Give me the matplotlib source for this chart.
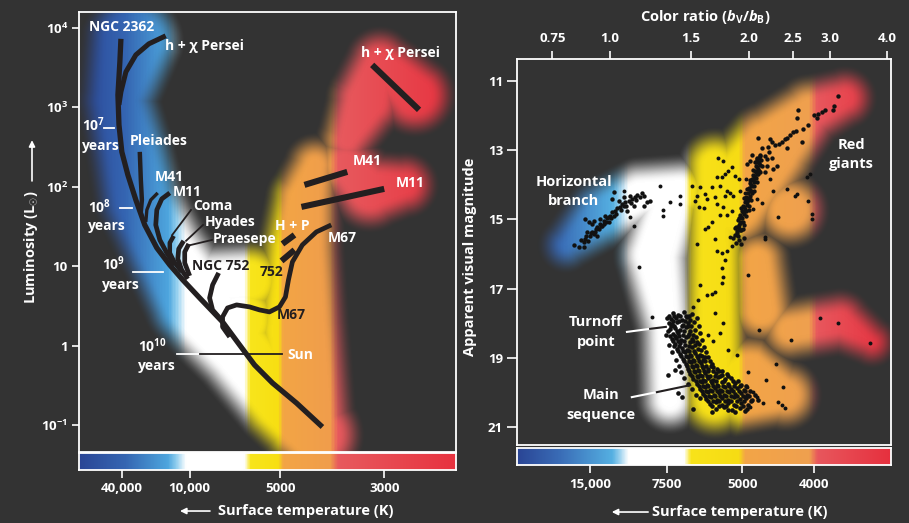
import numpy as np
import matplotlib
matplotlib.use("Agg")
import matplotlib.pyplot as plt
from matplotlib.colors import LinearSegmentedColormap
from matplotlib.ticker import NullLocator

plt.rcParams['font.family'] = ['Open Sans', 'DejaVu Sans']
plt.rcParams['font.weight'] = 'bold'
plt.rcParams['mathtext.fontset'] = 'custom'
plt.rcParams['mathtext.rm'] = 'Open Sans:bold'
plt.rcParams['mathtext.it'] = 'Open Sans:bold:italic'
plt.rcParams['mathtext.bf'] = 'Open Sans:bold'

BG = '#333333'
INK = '#231f20'

# ---------------------------------------------------------------- left panel
# cluster isochrones: x = colour index, y = log10(L / Lsun)
ngc2362_x = [-0.222, -0.229, -0.242, -0.235, -0.216, -0.176, -0.123, -0.064, 0.016,
             0.102, 0.188, 0.300, 0.452, 0.565, 0.664, 0.783, 0.942, 1.114]
ngc2362_logL = [3.862, 3.572, 3.157, 2.779, 2.439, 2.149, 1.834, 1.519, 1.230,
                1.015, 0.827, 0.600, 0.298, 0.008, -0.244, -0.471, -0.723, -1.025]
hchi_x = [0.075, -0.037, -0.123, -0.189, -0.222, -0.235]
hchi_logL = [3.900, 3.799, 3.660, 3.446, 3.194, 3.031]
pleiades_x = [-0.097, -0.090, -0.083, -0.090]
pleiades_logL = [2.439, 2.086, 1.834, 1.683]
m41_x = [0.022, -0.024, -0.050, -0.057]
m41_logL = [1.922, 1.834, 1.708, 1.557]
m11_x = [0.102, 0.049, 0.016, 0.009, 0.036, 0.082, 0.135]
m11_logL = [1.922, 1.847, 1.708, 1.519, 1.330, 1.167, 1.015]
coma_x = [0.128, 0.102, 0.102, 0.135, 0.181]
coma_logL = [1.381, 1.293, 1.167, 1.041, 0.927]
hyades_x = [0.194, 0.161, 0.155, 0.181, 0.221]
hyades_logL = [1.318, 1.217, 1.091, 0.952, 0.839]
praesepe_x = [0.228, 0.201, 0.201, 0.234]
praesepe_logL = [1.280, 1.179, 1.041, 0.877]
ngc752_x = [0.426, 0.386, 0.366, 0.386, 0.433]
ngc752_logL = [0.915, 0.764, 0.600, 0.449, 0.348]
m67_x = [1.173, 1.074, 0.981, 0.915, 0.889, 0.869, 0.829, 0.763, 0.697, 0.631,
         0.545, 0.485, 0.452, 0.452, 0.499]
m67_logL = [1.519, 1.431, 1.267, 1.053, 0.827, 0.612, 0.487, 0.424, 0.449, 0.487,
            0.512, 0.474, 0.361, 0.235, 0.109]
# giant-branch segments
hp_giants_x, hp_giants_logL = [0.849, 0.929], [1.280, 1.393]
n752_giants_x, n752_giants_logL = [0.843, 0.929], [1.066, 1.204]
m41_giants_x, m41_giants_logL = [0.995, 1.279], [2.023, 2.187]
m11_giants_x, m11_giants_logL = [0.975, 1.524], [1.746, 1.973]
hchi_giants_x, hchi_giants_logL = [1.444, 1.755], [3.534, 2.968]

lum_ticks = [0.1, 1, 10, 100, 1000, 10000]
lum_labels = ['$10^{-1}$', '1', '10', '$10^2$', '$10^3$', '$10^4$']
temp_left_pos = [-0.216, 0.234, 0.836, 1.524]
temp_left_labels = ['40,000', '10,000', '5000', '3000']

# ---------------------------------------------------------------- right panel
# globular cluster photometry: (colour ratio bV/bB, apparent visual magnitude)
hb_stars = [
    (0.835, 15.74), (0.856, 15.80), (0.878, 15.65), (0.882, 15.57), (0.896, 15.62),
    (0.905, 15.48), (0.914, 15.36), (0.928, 15.36), (0.937, 15.22), (0.951, 15.13),
    (0.961, 15.19), (0.970, 15.05), (0.985, 14.96), (1.000, 14.90), (1.010, 14.79),
    (1.025, 14.76), (1.036, 14.67), (1.051, 14.64), (1.062, 14.55), (1.078, 14.50),
    (1.100, 14.47), (1.116, 14.41), (1.133, 14.35), (1.145, 14.29), (1.174, 14.24),
    (1.185, 14.32), (1.203, 14.50), (1.221, 14.47), (1.185, 14.61), (1.127, 14.61),
    (1.089, 14.76), (1.073, 14.61), (1.020, 14.90), (0.995, 15.08), (0.970, 15.13),
    (0.946, 15.28), (0.923, 15.42), (0.891, 15.36), (0.882, 14.99), (0.900, 15.08),
    (0.914, 15.13), (0.937, 15.48), (0.878, 15.80), (1.073, 14.35), (1.105, 14.32),
    (1.020, 14.21), (1.010, 14.41), (1.046, 14.47), (0.995, 14.93), (0.975, 14.90),
    (0.951, 14.99), (0.923, 15.05), (0.865, 15.60), (0.887, 15.48), (0.909, 15.39),
    (0.932, 15.28), (0.956, 15.19), (0.980, 15.08), (1.005, 14.96), (1.030, 14.84),
    (1.056, 14.73), (1.083, 14.61), (1.111, 14.53), (1.139, 14.44), (1.162, 14.35),
]
rgb_stars = [
    (1.869, 15.45), (1.898, 15.48), (1.888, 15.34), (1.917, 15.31), (1.879, 15.22),
    (1.907, 15.16), (1.927, 15.08), (1.898, 15.02), (1.936, 14.96), (1.917, 14.87),
    (1.956, 14.84), (1.936, 14.76), (1.966, 14.70), (1.946, 14.61), (1.985, 14.58),
    (1.966, 14.50), (1.995, 14.44), (1.975, 14.35), (2.015, 14.32), (1.995, 14.24),
    (2.025, 14.18), (2.005, 14.09), (2.035, 14.03), (2.015, 13.95), (2.056, 13.92),
    (2.035, 13.83), (2.066, 13.80), (2.046, 13.72), (2.087, 13.69), (2.066, 13.60),
    (2.098, 13.54), (2.077, 13.46), (2.119, 13.43), (2.098, 13.34), (2.130, 13.28),
    (2.087, 13.23), (2.119, 13.14), (1.907, 15.60), (1.879, 15.68), (1.927, 15.71),
    (1.956, 15.54), (1.851, 15.54), (1.975, 14.76), (2.005, 14.61), (1.956, 15.16),
    (1.946, 15.08), (1.975, 14.44), (2.035, 14.24), (2.056, 14.03), (2.077, 13.80),
    (2.108, 13.60), (1.927, 15.31), (1.898, 15.22), (1.888, 15.39), (1.907, 15.25),
    (1.917, 15.10), (1.927, 14.93), (1.946, 14.79), (1.956, 14.64), (1.985, 14.50),
    (2.005, 14.38), (2.015, 14.15), (2.025, 14.01), (2.046, 13.86), (2.056, 13.75),
    (2.077, 13.63), (2.087, 13.49), (2.108, 13.37), (2.108, 13.23),
    (1.869, 15.25), (1.946, 15.28), (1.907, 14.96), (1.975, 14.90), (1.927, 14.67),
    (2.005, 14.73), (1.956, 14.38), (2.025, 14.44), (1.985, 14.12), (2.056, 14.18),
    (2.015, 13.86), (2.087, 13.92), (2.046, 13.57), (2.119, 13.63), (2.077, 13.34),
    (2.141, 13.46),
    (3.136, 11.44), (3.069, 11.71), (3.059, 11.83), (2.934, 11.83), (2.886, 11.89),
    (2.838, 11.95), (2.815, 12.08), (2.777, 11.98), (2.559, 11.83), (2.554, 12.08),
    (2.698, 12.27), (2.631, 12.37), (2.536, 12.44), (2.503, 12.48), (2.462, 12.56),
    (2.430, 12.63), (2.400, 12.68), (2.361, 12.75), (2.334, 12.82), (2.285, 12.85),
    (2.246, 12.77), (2.228, 12.66), (2.209, 12.89), (2.220, 13.06), (2.246, 13.21),
    (2.198, 13.25), (2.173, 13.16), (2.118, 13.16), (2.101, 12.63), (2.137, 12.92),
    (2.084, 13.25), (2.066, 13.35), (2.032, 13.14), (2.015, 13.30), (1.982, 13.40),
    (2.304, 13.45), (2.265, 13.54), (2.191, 13.45), (2.173, 13.64), (2.611, 12.77),
    (2.422, 12.94), (2.101, 13.69),
]
ms_stars = [
    (1.371, 17.71), (1.405, 17.76), (1.448, 17.68), (1.357, 17.88), (1.391, 17.85),
    (1.434, 17.91), (1.470, 17.82), (1.364, 18.02), (1.398, 17.97), (1.441, 18.05),
    (1.477, 17.99), (1.350, 18.17), (1.384, 18.14), (1.420, 18.20), (1.463, 18.11),
    (1.492, 18.23), (1.371, 18.31), (1.405, 18.28), (1.441, 18.34), (1.485, 18.31),
    (1.364, 18.46), (1.391, 18.43), (1.427, 18.49), (1.463, 18.40), (1.507, 18.46),
    (1.384, 18.60), (1.420, 18.57), (1.455, 18.63), (1.492, 18.54), (1.530, 18.63),
    (1.398, 18.75), (1.434, 18.72), (1.470, 18.77), (1.507, 18.69), (1.553, 18.75),
    (1.420, 18.89), (1.455, 18.83), (1.492, 18.92), (1.530, 18.86), (1.569, 18.92),
    (1.441, 19.03), (1.477, 18.98), (1.515, 19.06), (1.553, 19.01), (1.593, 19.06),
    (1.633, 18.98), (1.463, 19.18), (1.500, 19.12), (1.538, 19.21), (1.577, 19.15),
    (1.617, 19.24), (1.477, 19.32), (1.515, 19.27), (1.553, 19.35), (1.593, 19.29),
    (1.633, 19.32), (1.675, 19.27), (1.492, 19.47), (1.530, 19.41), (1.569, 19.50),
    (1.609, 19.44), (1.649, 19.53), (1.700, 19.44), (1.752, 19.50), (1.515, 19.61),
    (1.553, 19.55), (1.593, 19.64), (1.633, 19.58), (1.675, 19.64), (1.717, 19.55),
    (1.778, 19.61), (1.832, 19.58), (1.546, 19.76), (1.585, 19.70), (1.625, 19.79),
    (1.666, 19.73), (1.708, 19.79), (1.752, 19.70), (1.805, 19.76), (1.869, 19.73),
    (1.927, 19.79), (1.569, 19.90), (1.609, 19.84), (1.649, 19.93), (1.691, 19.87),
    (1.734, 19.93), (1.778, 19.84), (1.832, 19.90), (1.888, 19.87), (1.956, 19.93),
    (1.593, 20.05), (1.633, 19.99), (1.683, 20.08), (1.726, 20.02), (1.769, 20.08),
    (1.814, 19.99), (1.869, 20.05), (1.927, 20.02), (1.985, 20.08), (1.617, 20.19),
    (1.658, 20.13), (1.708, 20.22), (1.752, 20.16), (1.805, 20.22), (1.860, 20.13),
    (1.917, 20.19), (1.975, 20.16), (2.035, 20.22), (1.649, 20.34), (1.700, 20.28),
    (1.752, 20.36), (1.805, 20.31), (1.860, 20.36), (1.927, 20.31), (1.995, 20.36),
    (1.700, 20.48), (1.769, 20.42), (1.842, 20.51), (1.917, 20.45), (1.985, 20.48),
    (1.344, 17.99), (1.378, 18.08), (1.413, 18.37), (1.448, 18.51), (1.485, 18.66),
    (1.522, 18.80), (1.561, 19.09), (1.601, 19.38), (1.337, 19.50), (1.384, 19.35),
    (1.405, 20.02), (1.434, 20.13), (1.515, 20.48), (1.805, 20.51),
    (1.344, 17.79), (1.378, 17.79), (1.420, 17.79), (1.463, 17.79), (1.371, 17.94),
    (1.413, 17.94), (1.455, 17.94), (1.357, 18.08), (1.434, 18.08), (1.477, 18.08),
    (1.337, 18.23), (1.398, 18.23), (1.448, 18.23), (1.350, 18.37), (1.384, 18.37),
    (1.477, 18.37), (1.371, 18.51), (1.405, 18.51), (1.515, 18.51), (1.378, 18.66),
    (1.413, 18.66), (1.405, 18.80), (1.441, 18.80), (1.485, 18.80), (1.427, 18.95),
    (1.463, 18.95), (1.500, 18.95), (1.546, 18.95), (1.585, 18.95), (1.448, 19.09),
    (1.485, 19.09), (1.522, 19.09), (1.609, 19.09), (1.470, 19.24), (1.507, 19.24),
    (1.546, 19.24), (1.585, 19.24), (1.658, 19.24), (1.485, 19.38), (1.522, 19.38),
    (1.561, 19.38), (1.633, 19.38), (1.675, 19.38), (1.726, 19.38), (1.507, 19.53),
    (1.546, 19.53), (1.585, 19.53), (1.625, 19.53), (1.691, 19.53), (1.734, 19.53),
    (1.805, 19.53), (1.538, 19.67), (1.569, 19.67), (1.609, 19.67), (1.658, 19.67),
    (1.700, 19.67), (1.769, 19.67), (1.851, 19.67), (1.898, 19.67), (1.561, 19.82),
    (1.593, 19.82), (1.633, 19.82), (1.675, 19.82), (1.717, 19.82), (1.760, 19.82),
    (1.814, 19.82), (1.860, 19.82), (1.917, 19.82), (1.975, 19.82), (1.585, 19.96),
    (1.617, 19.96), (1.666, 19.96), (1.708, 19.96), (1.752, 19.96), (1.796, 19.96),
    (1.851, 19.96), (1.907, 19.96), (1.966, 19.96), (2.015, 19.96), (1.609, 20.10),
    (1.641, 20.10), (1.691, 20.10), (1.734, 20.10), (1.787, 20.10), (1.832, 20.10),
    (1.888, 20.10), (1.946, 20.10), (2.005, 20.10), (1.633, 20.25), (1.675, 20.25),
    (1.726, 20.25), (1.778, 20.25), (1.832, 20.25), (1.888, 20.25), (1.956, 20.25),
    (2.025, 20.25), (1.666, 20.39), (1.726, 20.39), (1.787, 20.39), (1.879, 20.39),
    (1.946, 20.39),
    (1.507, 17.73), (1.546, 17.85), (1.522, 17.97), (1.561, 18.08), (1.530, 18.20),
    (1.569, 18.28), (1.538, 18.40), (1.585, 18.49), (1.561, 18.60), (1.601, 18.69),
    (1.577, 18.77), (1.617, 18.83), (1.609, 18.98), (1.649, 19.09), (1.666, 19.18),
    (1.708, 19.32), (1.752, 19.38), (1.796, 19.47), (1.330, 17.85), (1.323, 18.34),
    (1.344, 18.63), (1.364, 18.83), (1.391, 19.06), (1.413, 19.24), (1.427, 19.41),
    (1.448, 19.58), (1.477, 19.76), (1.507, 19.90), (1.538, 20.08), (1.569, 20.16),
    (2.066, 20.08), (2.098, 20.22), (1.966, 20.54), (1.869, 20.57), (1.666, 20.57),
    (1.485, 17.79), (1.492, 17.91), (1.500, 18.08), (1.515, 18.34), (1.546, 18.54),
]
field_stars = [
    (1.074, 14.18), (1.104, 14.94), (1.129, 15.18), (1.287, 14.04), (1.352, 14.49),
    (1.417, 14.31), (1.422, 14.55), (1.304, 14.73), (1.304, 14.89), (1.154, 16.38),
    (1.234, 17.81), (1.509, 14.03), (1.567, 14.07), (1.546, 14.31), (1.533, 14.46),
    (1.559, 14.65), (1.599, 14.67), (1.612, 15.28), (1.546, 15.71), (1.720, 13.23),
    (1.764, 13.30), (1.839, 13.49), (1.808, 13.59), (1.778, 13.69), (1.749, 13.78),
    (1.706, 13.78), (1.869, 13.75), (1.910, 13.83), (1.975, 13.83), (1.965, 14.22),
    (1.917, 14.17), (1.823, 14.22), (1.793, 14.17), (1.734, 14.03), (1.664, 14.07),
    (1.609, 14.27), (1.623, 14.41), (1.691, 14.36), (1.706, 14.55), (1.778, 14.31),
    (1.854, 14.31), (1.764, 14.65), (1.734, 14.87), (1.793, 14.87), (1.839, 14.75),
    (1.664, 15.08), (1.636, 15.23), (1.823, 15.52), (1.839, 15.76), (1.691, 15.57),
    (1.706, 15.90), (1.793, 15.90), (2.173, 15.57), (2.322, 14.94), (2.677, 13.78),
    (2.722, 13.69), (2.546, 14.27), (2.525, 14.31), (2.698, 14.46), (2.744, 14.84),
    (2.744, 14.99), (2.422, 14.12), (2.257, 14.17), (2.228, 13.83), (2.087, 14.41),
    (2.137, 14.51), (2.046, 14.70), (2.173, 15.50), (1.569, 16.90), (1.515, 17.52),
    (1.556, 17.33), (1.623, 17.18), (1.664, 17.14), (1.691, 17.09), (1.749, 16.85),
    (1.764, 16.66), (1.749, 16.41), (1.778, 16.17), (1.749, 15.98), (1.691, 17.71),
    (1.764, 18.00), (1.633, 18.34), (1.734, 18.29), (1.675, 18.51), (1.808, 18.77),
    (1.888, 18.92), (1.995, 16.61), (2.108, 18.20), (2.473, 18.49), (2.292, 19.18),
    (2.380, 19.84), (2.185, 19.64), (1.992, 19.42), (2.314, 20.27), (2.361, 20.36),
    (2.400, 20.46), (2.154, 20.32), (2.862, 17.86), (3.136, 18.00), (3.678, 18.58),
    (2.046, 19.98), (1.966, 20.12), (1.985, 19.84), (2.015, 20.41), (2.087, 20.12),
]

ratio_ticks = [0.75, 1.0, 1.5, 2.0, 2.5, 3.0, 4.0]
ratio_labels = ['0.75', '1.0', '1.5', '2.0', '2.5', '3.0', '4.0']
mag_ticks = [11, 13, 15, 17, 19, 21]
temp_right_pos = [0.905, 1.328, 1.939, 2.781]
temp_right_labels = ['15,000', '7500', '5000', '4000']

# colour scales (fraction of axis width -> colour)
left_cmap = LinearSegmentedColormap.from_list('left_temp', [
    (0.0, '#2b4696'), (0.122, '#3566b2'), (0.235, '#4ea6de'), (0.257, '#8fcdee'),
    (0.283, '#ffffff'), (0.439, '#ffffff'), (0.455, '#f8e51c'), (0.529, '#f7df12'),
    (0.542, '#f3a545'), (0.667, '#f09d4c'), (0.688, '#e85a5e'), (1.0, '#e7323f')])
right_cmap = LinearSegmentedColormap.from_list('right_temp', [
    (0.0, '#2a4595'), (0.115, '#3a6db7'), (0.254, '#55b0e2'), (0.275, '#9fd3ef'),
    (0.297, '#ffffff'), (0.447, '#ffffff'), (0.465, '#f8e31a'), (0.594, '#f6dc14'),
    (0.610, '#f3a547'), (0.783, '#efa04f'), (0.805, '#e8575d'), (1.0, '#e6303e')])

# soft glow outlines: (x, y) in axes fraction, radius in pixels
left_glow = [
    [(0.140, 0.932, 40), (0.103, 0.800, 30), (0.135, 0.686, 33), (0.161, 0.573, 35),
     (0.228, 0.459, 36), (0.308, 0.345, 42), (0.427, 0.232, 38), (0.538, 0.118, 38),
     (0.629, 0.039, 36)],
    [(0.334, 0.386, 30), (0.454, 0.391, 30)],
    [(0.427, 0.300, 36)],
    [(0.626, 0.652, 20), (0.599, 0.573, 28), (0.586, 0.459, 33), (0.581, 0.277, 40),
     (0.599, 0.073, 40)],
    [(0.706, 0.652, 25), (0.772, 0.595, 30), (0.865, 0.607, 22)],
    [(0.711, 0.709, 20), (0.764, 0.800, 30), (0.798, 0.886, 24), (0.891, 0.811, 30)],
]
right_glow = [
    [(0.131, 0.518, 16), (0.222, 0.596, 26), (0.329, 0.648, 26), (0.436, 0.655, 26)],
    [(0.409, 0.622, 28), (0.369, 0.492, 30), (0.404, 0.298, 22), (0.409, 0.117, 22)],
    [(0.529, 0.725, 25), (0.529, 0.117, 27)],
    [(0.570, 0.635, 42), (0.676, 0.764, 38), (0.783, 0.863, 26), (0.877, 0.899, 20)],
    [(0.730, 0.609, 28)],
    [(0.644, 0.479, 22), (0.655, 0.350, 25)],
    [(0.623, 0.155, 42), (0.717, 0.130, 25)],
    [(0.730, 0.298, 22), (0.864, 0.319, 22), (0.949, 0.267, 14)],
]


def glow(ax, strokes, cmap, soft=14.0):
    bb = ax.get_window_extent()
    w, h = int(round(bb.width)), int(round(bb.height))
    gx, gy = np.meshgrid(np.arange(w) + 0.5, (h - 0.5) - np.arange(h))
    field = np.full((h, w), np.inf)
    for stroke in strokes:
        pts = np.asarray(stroke, float)
        xy = pts[:, :2] * [w, h]
        rad = pts[:, 2]
        if len(pts) == 1:
            field = np.minimum(field, np.hypot(gx - xy[0, 0], gy - xy[0, 1]) - rad[0])
            continue
        for i in range(len(pts) - 1):
            p, d = xy[i], xy[i + 1] - xy[i]
            t = np.clip(((gx - p[0]) * d[0] + (gy - p[1]) * d[1]) / (d @ d), 0, 1)
            dist = np.hypot(gx - p[0] - t * d[0], gy - p[1] - t * d[1])
            field = np.minimum(field, dist - (rad[i] + t * (rad[i + 1] - rad[i])))
    a = np.clip(0.5 - field / (2 * soft), 0, 1)
    a = a * a * (3 - 2 * a)
    rgba = np.empty((h, w, 4))
    rgba[..., :3] = cmap(np.linspace(0, 1, w))[None, :, :3]
    rgba[..., 3] = a
    ax.set_autoscale_on(False)
    ax.imshow(rgba, extent=(0, 1, 0, 1), transform=ax.transAxes, aspect='auto',
              interpolation='bilinear', zorder=1)


def colour_bar(ax, cmap):
    ax.set_autoscale_on(False)
    ax.imshow(np.linspace(0, 1, 512)[None, :], cmap=cmap, extent=(0, 1, 0, 1),
              transform=ax.transAxes, aspect='auto', zorder=1)
    ax.set_yticks([])


def frame(ax):
    ax.set_facecolor(BG)
    for s in ax.spines.values():
        s.set_color('white')
        s.set_linewidth(1.3)
        s.set_zorder(6)


W, H = 909, 523


def box(x0, y0, x1, y1):
    return [x0 / W, 1 - y1 / H, (x1 - x0) / W, (y1 - y0) / H]


fig = plt.figure(figsize=(9.09, 5.23), dpi=100, facecolor=BG)
ax_l = fig.add_axes(box(79, 12, 456, 452))
cb_l = fig.add_axes(box(79, 453, 456, 470))
ax_r = fig.add_axes(box(517, 59, 891, 445))
cb_r = fig.add_axes(box(517, 448, 891, 465))
for a in (ax_l, cb_l, ax_r, cb_r):
    frame(a)

# ---- left: H-R diagram of clusters
ax_l.set_yscale('log')
ax_l.set_xlim(-0.5, 2.0)
ax_l.set_ylim(10 ** -1.34, 10 ** 4.2)
glow(ax_l, left_glow, left_cmap)
ax_l.set_xlim(-0.5, 2.0)
ax_l.set_ylim(10 ** -1.34, 10 ** 4.2)

tracks = [
    (ngc2362_x, ngc2362_logL, 3.8), (hchi_x, hchi_logL, 3.6),
    (pleiades_x, pleiades_logL, 3.2), (m41_x, m41_logL, 2.4),
    (m11_x, m11_logL, 3.4), (coma_x, coma_logL, 3.2),
    (hyades_x, hyades_logL, 3.4), (praesepe_x, praesepe_logL, 3.4),
    (ngc752_x, ngc752_logL, 3.4), (m67_x, m67_logL, 3.4),
    (hp_giants_x, hp_giants_logL, 4.4), (n752_giants_x, n752_giants_logL, 4.4),
    (m41_giants_x, m41_giants_logL, 4.4), (m11_giants_x, m11_giants_logL, 4.4),
    (hchi_giants_x, hchi_giants_logL, 4.4),
]
for tx, tl, lw in tracks:
    ax_l.plot(tx, 10 ** np.asarray(tl), color=INK, lw=lw, solid_capstyle='butt',
              solid_joinstyle='round', zorder=3)

lk = dict(transform=ax_l.transAxes, fontsize=10, ha='left', va='center', zorder=5)
for txt, fx, fy in [
        ('NGC 2362', 0.026, 0.966), ('h + χ Persei', 0.228, 0.923),
        ('h + χ Persei', 0.749, 0.907), ('10$^7$', 0.008, 0.743), ('years', 0.008, 0.695),
        ('Pleiades', 0.135, 0.707), ('M41', 0.201, 0.625), ('M11', 0.249, 0.591),
        ('10$^8$', 0.024, 0.557), ('years', 0.024, 0.514), ('Coma', 0.302, 0.559),
        ('Hyades', 0.333, 0.523), ('Praesepe', 0.354, 0.484), ('H + P', 0.519, 0.514),
        ('M67', 0.661, 0.486), ('M41', 0.725, 0.661), ('M11', 0.841, 0.611),
        ('10$^9$', 0.061, 0.427), ('years', 0.061, 0.380), ('10$^{10}$', 0.156, 0.241),
        ('years', 0.156, 0.195), ('Sun', 0.553, 0.220)]:
    ax_l.text(fx, fy, txt, color='white', **lk)
for txt, fx, fy in [('NGC 752', 0.299, 0.423), ('752', 0.479, 0.409), ('M67', 0.524, 0.311)]:
    ax_l.text(fx, fy, txt, color=INK, **lk)

# age markers and leaders
for (x0, x1, y), col in [((0.066, 0.093, 0.736), 'white'), ((0.109, 0.141, 0.555), 'white'),
                         ((0.143, 0.223, 0.409), 'white'), ((0.260, 0.321, 0.223), 'white'),
                         ((0.321, 0.538, 0.223), INK)]:
    ax_l.plot([x0, x1], [y, y], color=col, lw=1.3, transform=ax_l.transAxes, zorder=4)
for (x0, y0), (x1, y1) in [((0.297, 0.550), (0.247, 0.493)), ((0.329, 0.516), (0.284, 0.480)),
                           ((0.353, 0.482), (0.294, 0.470))]:
    ax_l.plot([x0, x1], [y0, y1], color=INK, lw=1.3, transform=ax_l.transAxes, zorder=4)

ax_l.set_xticks([])
ax_l.set_yticks(lum_ticks, lum_labels)
ax_l.yaxis.set_minor_locator(NullLocator())
ax_l.tick_params(axis='y', colors='white', length=5, width=1.2, pad=3, labelsize=9.5)

colour_bar(cb_l, left_cmap)
cb_l.set_xlim(-0.5, 2.0)
cb_l.set_xticks(temp_left_pos, temp_left_labels)
cb_l.tick_params(axis='x', colors='white', length=6, width=1.2, pad=3, labelsize=9.5)

# ---- right: globular cluster colour-magnitude diagram
ax_r.set_xscale('log')
ax_r.set_xlim(0.628, 4.08)
ax_r.set_ylim(21.52, 10.36)
glow(ax_r, right_glow, right_cmap)
ax_r.set_xlim(0.628, 4.08)
ax_r.set_ylim(21.52, 10.36)

for group, size in ((hb_stars, 10), (rgb_stars, 10), (ms_stars, 11), (field_stars, 8)):
    r, m = np.array(group).T
    ax_r.scatter(r, m, s=size, color='#111111', lw=0, zorder=3)

rk = dict(transform=ax_r.transAxes, fontsize=10.5, ha='center', va='center',
          color='white', zorder=5)
for txt, fx, fy in [('Horizontal', 0.152, 0.681), ('branch', 0.152, 0.632),
                    ('Red', 0.893, 0.777), ('giants', 0.893, 0.728),
                    ('Turnoff', 0.211, 0.319), ('point', 0.211, 0.267),
                    ('Main', 0.225, 0.130), ('sequence', 0.225, 0.078)]:
    ax_r.text(fx, fy, txt, **rk)
for (x0, y0), (x1, y1), col in [((0.294, 0.293), (0.356, 0.301), 'white'),
                                ((0.356, 0.301), (0.398, 0.306), INK),
                                ((0.307, 0.124), (0.374, 0.137), 'white'),
                                ((0.374, 0.137), (0.463, 0.155), INK)]:
    ax_r.plot([x0, x1], [y0, y1], color=col, lw=1.5, transform=ax_r.transAxes, zorder=4)

ax_r.xaxis.tick_top()
ax_r.set_xticks(ratio_ticks, ratio_labels)
ax_r.xaxis.set_minor_locator(NullLocator())
ax_r.tick_params(axis='x', top=True, bottom=False, colors='white', length=6, width=1.2,
                 pad=4, labelsize=9.5)
ax_r.set_yticks(mag_ticks, [str(v) for v in mag_ticks])
ax_r.tick_params(axis='y', colors='white', length=7, width=1.2, pad=3, labelsize=9.5)

colour_bar(cb_r, right_cmap)
cb_r.set_xscale('log')
cb_r.set_xlim(0.628, 4.08)
cb_r.set_xticks(temp_right_pos, temp_right_labels)
cb_r.xaxis.set_minor_locator(NullLocator())
cb_r.tick_params(axis='x', colors='white', length=6, width=1.2, pad=3, labelsize=9.5)

# ---- axis titles
fig.text(0.035, 0.528, 'Luminosity (L$_{\\odot}$)', rotation=90, ha='center', va='center',
         color='white', fontsize=10.5)
fig.text(0.517, 0.509, 'Apparent visual magnitude', rotation=90, ha='center', va='center',
         color='white', fontsize=10.5)
fig.text(0.7756, 0.9675, 'Color ratio ($b_\\mathrm{V}/b_\\mathrm{B}$)', ha='center',
         va='center', color='white', fontsize=10.5)
fig.text(0.240, 0.0229, 'Surface temperature (K)', ha='left', va='center', color='white',
         fontsize=10.5)
fig.text(0.717, 0.021, 'Surface temperature (K)', ha='left', va='center', color='white',
         fontsize=10.5)
arrow = dict(arrowstyle='-|>', color='white', lw=1.2, mutation_scale=9,
             shrinkA=0, shrinkB=0)
for tail, tip in [((0.0352, 0.654), (0.0352, 0.732)), ((0.231, 0.0229), (0.198, 0.0229)),
                  ((0.713, 0.021), (0.673, 0.021))]:
    ax_l.annotate('', xy=tip, xycoords='figure fraction', xytext=tail,
                  textcoords='figure fraction', arrowprops=arrow)

fig.savefig('out.png', dpi=100, facecolor=BG)
